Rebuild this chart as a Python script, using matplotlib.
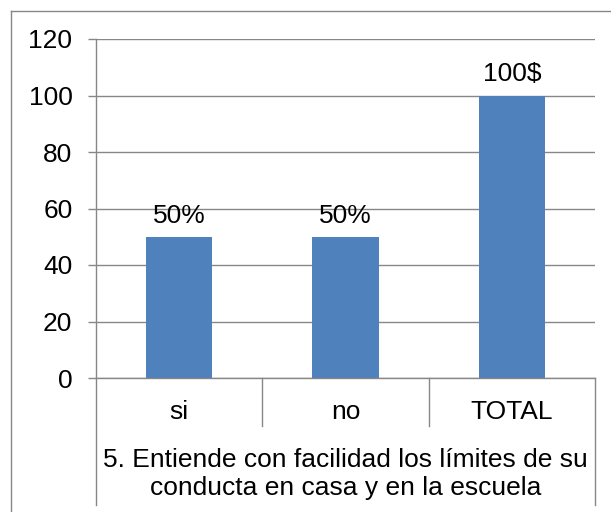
import matplotlib
matplotlib.use("Agg")
import matplotlib.pyplot as plt
from matplotlib.lines import Line2D
from matplotlib.transforms import blended_transform_factory

categories = ["si", "no", "TOTAL"]
values = [50, 50, 100]
value_labels = ["50%", "50%", "100$"]
yticks = [0, 20, 40, 60, 80, 100, 120]
group_title_lines = ["5. Entiende con facilidad los límites de su",
                     "conducta en casa y en la escuela"]

plt.rcParams['font.family'] = ['Liberation Sans', 'DejaVu Sans']
FS = 19
GRAY = "#878787"
BLUE = "#4F81BD"

W, H = 611, 512
fig = plt.figure(figsize=(W / 100, H / 100), dpi=100)
fig.patch.set_facecolor("white")

L, R, T, B = 96, 595, 39, 378
ax = fig.add_axes([L / W, 1 - B / H, (R - L) / W, (B - T) / H])

x = list(range(len(categories)))
ax.bar(x, values, width=0.4, color=BLUE, zorder=2)
ax.set_xlim(-0.5, len(categories) - 0.5)
ax.set_ylim(0, 120)
ax.set_yticks(yticks)
ax.set_yticklabels([str(v) for v in yticks], fontsize=FS)
ax.set_xticks([])
ax.yaxis.grid(True, color=GRAY, linewidth=1.0, zorder=0)
ax.set_axisbelow(True)
for s in ["top", "right"]:
    ax.spines[s].set_visible(False)
ax.spines["left"].set_color(GRAY)
ax.spines["left"].set_linewidth(1.0)
ax.spines["bottom"].set_color(GRAY)
ax.spines["bottom"].set_linewidth(1.0)
ax.tick_params(axis="y", direction="out", length=6, width=1.0, color=GRAY, pad=11)

for xi, v, lab in zip(x, values, value_labels):
    ax.annotate(lab, (xi, v), xytext=(0, 6.5), textcoords="offset points",
                ha="center", va="bottom", fontsize=FS, zorder=3)

# category labels and separators
trans = blended_transform_factory(ax.transData, fig.transFigure)
for xi, c in zip(x, categories):
    ax.text(xi, 1 - 412 / H, c, transform=trans, ha="center", va="center", fontsize=FS)
for b in [0.5, 1.5]:
    fig.add_artist(Line2D([b, b], [1 - B / H, 1 - 426 / H], transform=trans,
                          color=GRAY, linewidth=1.0))
# outer lines of the category area
for b in [-0.5, 2.5]:
    fig.add_artist(Line2D([b, b], [1 - B / H, 1 - 505 / H], transform=trans,
                          color=GRAY, linewidth=1.0))
for yy, line in zip([460, 488], group_title_lines):
    ax.text(1, 1 - yy / H, line, transform=trans, ha="center", va="center",
            fontsize=FS)

# outer chart border
fig.add_artist(Line2D([11 / W, 11 / W], [0, 1 - 11 / H], transform=fig.transFigure,
                      color=GRAY, linewidth=1.0))
fig.add_artist(Line2D([11 / W, 1], [1 - 11 / H, 1 - 11 / H], transform=fig.transFigure,
                      color=GRAY, linewidth=1.0))

fig.savefig("out.png", dpi=100)
